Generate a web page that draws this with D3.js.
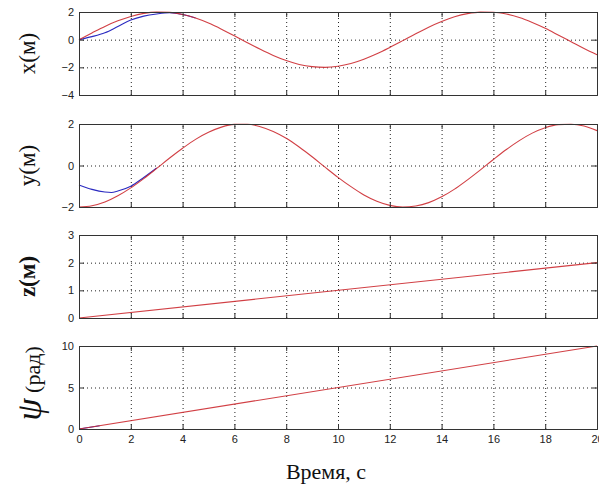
<!DOCTYPE html>
<html>
<head>
<meta charset="utf-8">
<script src="https://cdn.jsdelivr.net/npm/d3@7"></script>
<style>
  body { margin: 0; background: #fff; }
  svg { display: block; }
  .tick text { font-family: "Liberation Sans", Arial, sans-serif; font-size: 11px; fill: #222; }
  .ylabel { font-family: "Liberation Serif", "Times New Roman", serif; fill: #111; }
</style>
</head>
<body>
<svg id="chart" width="599" height="486"></svg>
<script>
// sample times, s
const TIME = [0, 0.5, 1, 1.5, 2, 2.5, 3, 3.5, 4, 4.5, 5, 5.5, 6, 6.5, 7, 7.5, 8, 8.5, 9, 9.5,
  10, 10.5, 11, 11.5, 12, 12.5, 13, 13.5, 14, 14.5, 15, 15.5, 16, 16.5, 17, 17.5, 18, 18.5, 19, 19.5, 20];

// reference trajectories (red)
const X_REF = [0, 0.49, 0.96, 1.36, 1.68, 1.9, 1.99, 1.97, 1.82, 1.56, 1.2, 0.76, 0.28, -0.22, -0.7, -1.14,
  -1.51, -1.79, -1.95, -2.0, -1.92, -1.72, -1.41, -1.02, -0.56, -0.07, 0.43, 0.9, 1.31, 1.65, 1.88, 1.99,
  1.98, 1.85, 1.6, 1.24, 0.82, 0.34, -0.15, -0.64, -1.09];
const Y_REF = [-2.0, -1.94, -1.76, -1.46, -1.08, -0.63, -0.14, 0.36, 0.83, 1.26, 1.6, 1.85, 1.98, 1.99, 1.87,
  1.64, 1.31, 0.89, 0.42, -0.08, -0.57, -1.02, -1.42, -1.72, -1.92, -2.0, -1.95, -1.79, -1.51, -1.14, -0.69,
  -0.21, 0.29, 0.77, 1.2, 1.56, 1.82, 1.97, 1.99, 1.9, 1.68];
const Z_TIME = [0, 20];
const Z_REF = [0, 2];
const PSI_REF = [0, 10];

// actual trajectories (blue), only the start differs from the reference
const X_ACT_TIME = [0, 0.5, 1, 1.5, 2, 2.5, 3, 3.5, 4, 4.5];
const X_ACT = [0, 0.22, 0.5, 0.95, 1.42, 1.7, 1.86, 1.95, 1.82, 1.56];
const Y_ACT_TIME = [0, 0.5, 1, 1.25, 1.5, 2, 2.5, 3];
const Y_ACT = [-0.94, -1.15, -1.28, -1.3, -1.23, -1.0, -0.58, -0.12];
const PSI_ACT_TIME = [0, 0.8];
const PSI_ACT = [0, 0.4];

const X_TICKS = [0, 2, 4, 6, 8, 10, 12, 14, 16, 18, 20];

const PANELS = [
  { label: 'x(м)', top: 12, domain: [-4, 2], ticks: [-4, -2, 0, 2],
    ref: [TIME, X_REF], act: [X_ACT_TIME, X_ACT] },
  { label: 'y(м)', top: 124, domain: [-2, 2], ticks: [-2, 0, 2],
    ref: [TIME, Y_REF], act: [Y_ACT_TIME, Y_ACT] },
  { label: 'z(м)', top: 235, domain: [0, 3], ticks: [0, 1, 2, 3],
    ref: [Z_TIME, Z_REF], act: null },
  { label: 'psi', top: 346, domain: [0, 10], ticks: [0, 5, 10],
    ref: [Z_TIME, PSI_REF], act: [PSI_ACT_TIME, PSI_ACT] },
];

const LEFT = 79;
const RIGHT = 597;
const PANEL_H = 83;
const TICK_LEN = 5;
const RED = '#cc2a30';
const BLUE = '#2a2ac0';

const svg = d3.select('#chart');
const x = d3.scaleLinear().domain([0, 20]).range([LEFT, RIGHT]);

const zip = (ts, vs) => ts.map((t, i) => [t, vs[i]]);

PANELS.forEach((p, idx) => {
  const y = d3.scaleLinear().domain(p.domain).range([p.top + PANEL_H, p.top]);
  const g = svg.append('g');
  const bottom = p.top + PANEL_H;

  // dotted grid
  g.append('g')
    .attr('transform', `translate(0,${bottom})`)
    .call(d3.axisBottom(x).tickValues(X_TICKS).tickSize(-PANEL_H).tickFormat(''))
    .call(s => s.select('.domain').remove())
    .selectAll('line').attr('stroke', '#222').attr('stroke-dasharray', '1,3');
  g.append('g')
    .attr('transform', `translate(${LEFT},0)`)
    .call(d3.axisLeft(y).tickValues(p.ticks).tickSize(-(RIGHT - LEFT)).tickFormat(''))
    .call(s => s.select('.domain').remove())
    .selectAll('line').attr('stroke', '#222').attr('stroke-dasharray', '1,3');

  // lines
  const line = d3.line().x(d => x(d[0])).y(d => y(d[1])).curve(d3.curveMonotoneX);
  if (p.act) {
    g.append('path').datum(zip(p.act[0], p.act[1]))
      .attr('d', line).attr('fill', 'none').attr('stroke', BLUE).attr('stroke-width', 1.1);
  }
  g.append('path').datum(zip(p.ref[0], p.ref[1]))
    .attr('d', line).attr('fill', 'none').attr('stroke', RED).attr('stroke-width', 1.1)
    .attr('stroke-opacity', 0.9);

  // inward ticks on all four sides
  const xb = g.append('g').attr('transform', `translate(0,${bottom})`)
    .call(d3.axisBottom(x).tickValues(X_TICKS).tickSize(-TICK_LEN).tickPadding(8)
      .tickFormat(idx === PANELS.length - 1 ? d3.format('d') : ''));
  g.append('g').attr('transform', `translate(0,${p.top})`)
    .call(d3.axisTop(x).tickValues(X_TICKS).tickSize(-TICK_LEN).tickFormat(''));
  g.append('g').attr('transform', `translate(${LEFT},0)`)
    .call(d3.axisLeft(y).tickValues(p.ticks).tickSize(-TICK_LEN).tickPadding(5).tickFormat(d3.format('d')));
  g.append('g').attr('transform', `translate(${RIGHT},0)`)
    .call(d3.axisRight(y).tickValues(p.ticks).tickSize(-TICK_LEN).tickFormat(''));
  g.selectAll('.domain').attr('stroke', '#333');
  g.selectAll('.tick line').filter(function () { return !this.getAttribute('stroke-dasharray'); })
    .attr('stroke', '#333');
  xb.selectAll('.tick text').attr('dy', '0.5em');

  // y label
  const cy = p.top + PANEL_H / 2;
  if (p.label === 'psi') {
    const t = g.append('text').attr('class', 'ylabel')
      .attr('transform', `translate(38,${cy - 4}) rotate(-90)`)
      .attr('text-anchor', 'middle');
    t.append('tspan').attr('font-size', 36).attr('font-style', 'italic').attr('dy', '0.08em').text('ψ');
    t.append('tspan').attr('font-size', 22).attr('dy', '-0.05em').text(' (рад)');
  } else {
    g.append('text').attr('class', 'ylabel')
      .attr('transform', `translate(35,${cy}) rotate(-90)`)
      .attr('text-anchor', 'middle')
      .attr('font-size', 23)
      .attr('font-weight', p.label.startsWith('z') ? 'bold' : 'normal')
      .text(p.label);
  }
});

svg.append('text').attr('class', 'ylabel')
  .attr('x', 326).attr('y', 479)
  .attr('text-anchor', 'middle')
  .attr('font-size', 22)
  .text('Время, с');
</script>
</body>
</html>
